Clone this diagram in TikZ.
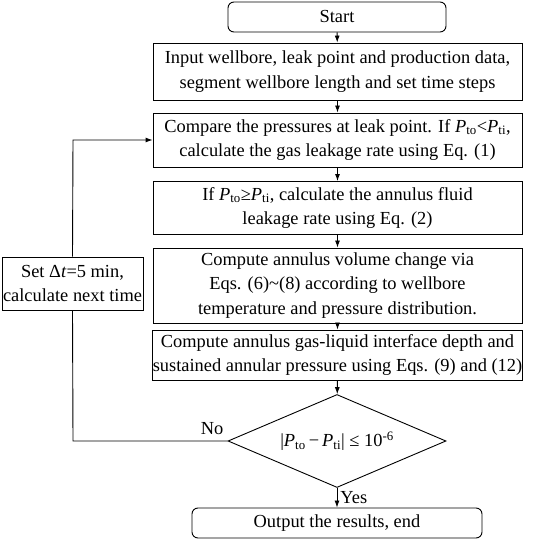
\documentclass[tikz,border=0pt]{standalone}
\usepackage{fontspec}
\setmainfont{Liberation Serif}
\usepackage{tikz}
\usetikzlibrary{positioning, arrows.meta, shapes.geometric}

\begin{document}
\begin{tikzpicture}[x=1pt, y=-1pt,
  every node/.style={font=\fontsize{18.4}{24.5}\selectfont, align=center, inner sep=0pt},
  stepbox/.style={draw, line width=0.9pt, minimum width=369pt},
  endbox/.style={draw, line width=0.9pt, rounded corners=6pt, minimum height=30pt},
  decision/.style={draw, line width=0.9pt, diamond, aspect=2.35, minimum width=218pt, minimum height=93pt},
  flow/.style={line width=0.9pt, -{Latex[length=7pt, width=5pt]}}]
\useasboundingbox (0,0) rectangle (550,540);

\node[endbox, minimum width=218pt] (start) at (337,17) {Start};
\node[stepbox, minimum height=57pt] (input) at (337.5,71.5) {Input wellbore, leak point and production data,\\segment wellbore length and set time steps};
\node[stepbox, minimum height=54pt] (compare) at (337.5,140) {Compare the pressures at leak point. If \textit{P}\textsubscript{to}<\textit{P}\textsubscript{ti},\\calculate the gas leakage rate using Eq. (1)};
\node[stepbox, minimum height=53pt] (leak) at (337.5,208) {If \textit{P}\textsubscript{to}≥\textit{P}\textsubscript{ti}, calculate the annulus fluid\\leakage rate using Eq. (2)};
\node[stepbox, minimum height=75pt] (volume) at (337.5,285.5) {Compute annulus volume change via\\Eqs. (6)\textasciitilde(8) according to wellbore\\temperature and pressure distribution.};
\node[stepbox, minimum height=50pt] (interface) at (337.5,355) {Compute annulus gas-liquid interface depth and\\sustained annular pressure using Eqs. (9) and (12)};
\node[decision] (check) at (337,441) {|\textit{P}\textsubscript{to}\,−\,\textit{P}\textsubscript{ti}| ≤ 10\textsuperscript{-6}};
\node[endbox, minimum width=290pt] (output) at (337,523) {Output the results, end};
\node[stepbox, minimum width=141pt, minimum height=53pt] (settime) at (72.5,283.5) {Set Δ\textit{t}=5 min,\\calculate next time};

\coordinate (bend1) at (73,441);
\coordinate (bend2) at (73,140);

\draw[flow] (start) -- (input);
\draw[flow] (input) -- (compare);
\draw[flow] (compare) -- (leak);
\draw[flow] (leak) -- (volume);
\draw[flow] (volume) -- (interface);
\draw[flow] (interface) -- (check);
\draw[flow] (check) -- (output) node[midway, right=3pt] {Yes};
\draw[line width=0.9pt] (check.west) -- (bend1) -- (settime.south);
\node (no) at (212,429) {No};
\draw[flow] (settime.north) -- (bend2) -- (compare.west);
\end{tikzpicture}
\end{document}
